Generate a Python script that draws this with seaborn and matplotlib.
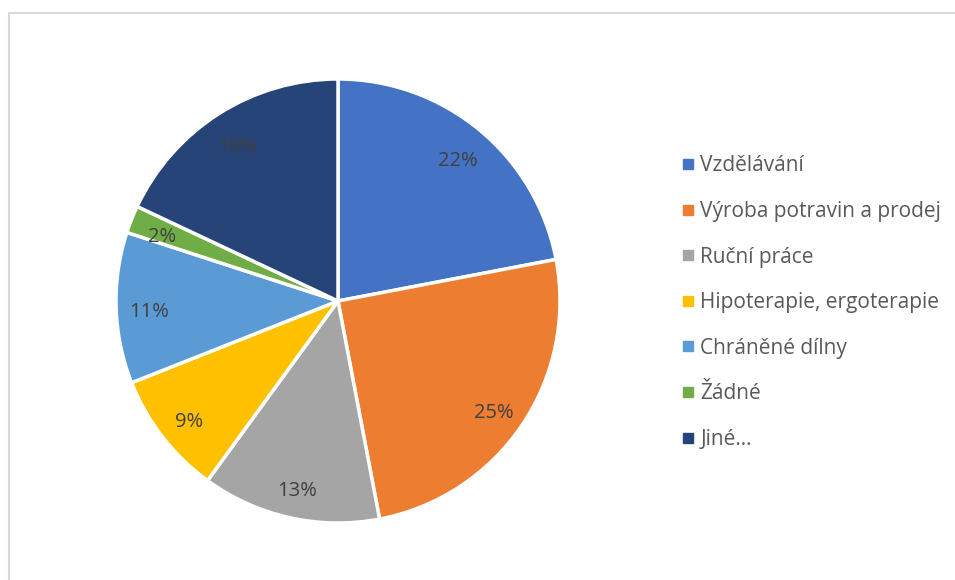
import matplotlib
matplotlib.use("Agg")
import matplotlib.pyplot as plt
from matplotlib.lines import Line2D
import seaborn as sns

categories = ["Vzdělávání", "Výroba potravin a prodej", "Ruční práce",
              "Hipoterapie, ergoterapie", "Chráněné dílny", "Žádné", "Jiné…"]
values = [22, 25, 13, 9, 11, 2, 18]
colors = ["#4472C4", "#ED7D31", "#A5A5A5", "#FFC000", "#5B9BD5", "#70AD47", "#264478"]

sns.set_theme(style="white")
plt.rcParams['font.family'] = ['Open Sans', 'DejaVu Sans']

W, H = 955, 580
fig = plt.figure(figsize=(W / 100, H / 100), dpi=100)
fig.patch.set_facecolor("white")

cx, cy, r = 338, 301, 222
ax = fig.add_axes([(cx - r) / W, (H - cy - r) / H, 2 * r / W, 2 * r / H])
wedges, texts, autotexts = ax.pie(
    values, colors=colors, startangle=90, counterclock=False,
    radius=1.0, autopct=lambda p: f"{p:.0f}%", pctdistance=0.85,
    wedgeprops=dict(edgecolor="white", linewidth=2.5),
    textprops=dict(color="#404040", fontsize=14.5))
for t in autotexts:
    x, y = t.get_position()
    t.set_position((x, y - 0.025))
ax.set_xlim(-1, 1)
ax.set_ylim(-1, 1)
ax.set_aspect("equal")
ax.axis("off")

handles = [Line2D([0], [0], marker="s", linestyle="", markersize=7,
                  markerfacecolor=c, markeredgecolor=c) for c in colors]
leg = fig.legend(handles, categories, loc="upper left",
                 bbox_to_anchor=(672 / W, 1 - 145 / H),
                 frameon=False, fontsize=15, labelcolor="#595959",
                 handlelength=0.5, handletextpad=0.35, labelspacing=1.18,
                 borderpad=0)

# chart border (top and left visible)
fig.add_artist(Line2D([9 / W, 1.0], [1 - 12.5 / H, 1 - 12.5 / H],
                      transform=fig.transFigure, color="#D9D9D9", lw=1.5))
fig.add_artist(Line2D([9 / W, 9 / W], [0, 1 - 12.5 / H],
                      transform=fig.transFigure, color="#D9D9D9", lw=1.5))

fig.savefig("out.png", dpi=100)
